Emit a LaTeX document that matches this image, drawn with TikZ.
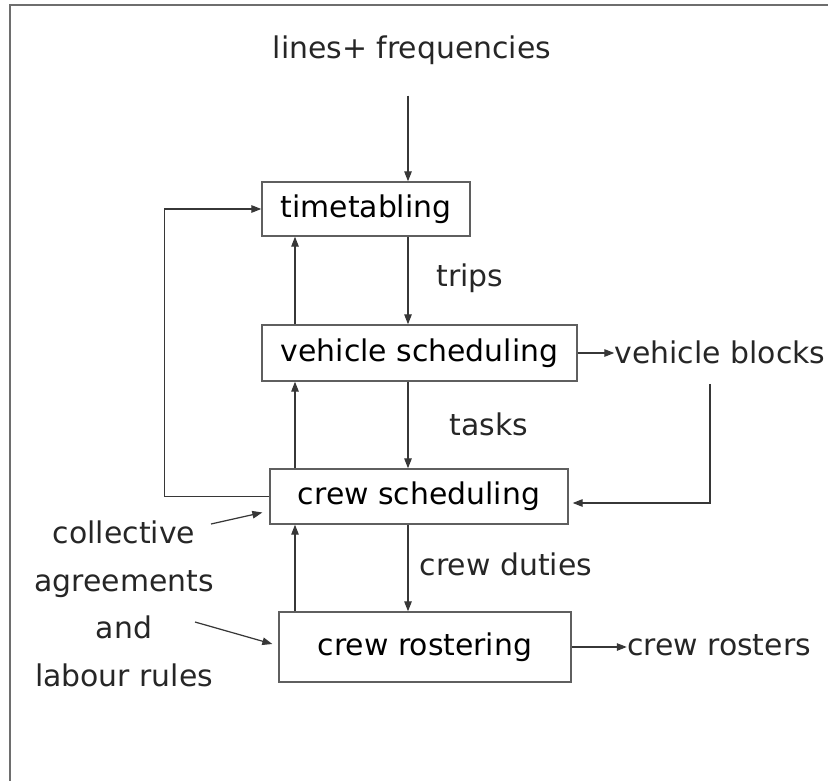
\documentclass[tikz,border=0pt]{standalone}
\usepackage{fontspec}
\setmainfont{DejaVu Sans}
\usepackage{tikz}
\usetikzlibrary{arrows.meta,positioning,calc}
\usepackage{xcolor}
\definecolor{linec}{RGB}{55,55,55}
\definecolor{boxc}{RGB}{95,95,95}
\definecolor{framec}{RGB}{110,110,110}
\tikzset{
  stage/.style = {draw=boxc, line width=0.8pt, inner sep=0pt,
                  font=\fontsize{17}{20}\selectfont},
  lbl/.style   = {anchor=base, inner sep=0pt, text=black!85,
                  font=\fontsize{17}{20}\selectfont},
  flow/.style  = {-{Triangle[length=2mm,width=1.5mm]}, linec, line width=0.7pt},
  framel/.style= {framec, line width=1pt},
}

\begin{document}
\begin{tikzpicture}[x=0.02cm, y=-0.02cm]
\useasboundingbox (0,0) rectangle (828,781);

% ---- frame ----
\draw[framel] (828,5) -- (10,5) -- (10,781);

% ---- planning stages ----
\node[stage, minimum width=4.16cm, minimum height=1.08cm] (time) at (366,209) {timetabling};
\node[stage, minimum width=6.30cm, minimum height=1.12cm] (veh)  at (419.5,353) {vehicle scheduling};
\node[stage, minimum width=5.96cm, minimum height=1.10cm] (crew) at (419,496.5) {crew scheduling};
\node[stage, minimum width=5.84cm, minimum height=1.40cm] (rost) at (425,647) {crew rostering};

% ---- inputs / outputs ----
\node[lbl] (lines)   at (412,58)  {lines+ frequencies};
\node[lbl] (trips)   at (470,286) {trips};
\node[lbl] (tasks)   at (489,435) {tasks};
\node[lbl] (duties)  at (506,575) {crew duties};
\node[lbl] (vblocks) at (720,363) {vehicle blocks};
\node[lbl] (rosters) at (719,655) {crew rosters};
\node[lbl, anchor=north, align=center, font=\fontsize{17}{27.3}\selectfont]
      (rules) at (124,520) {collective\\agreements\\and\\labour rules};

% ---- arrow columns ----
\coordinate (upx) at (295,0);
\coordinate (dnx) at (408,0);
\coordinate (vbturn) at (710,503);
\coordinate (ca1) at (211,524);
\coordinate (ca2) at (195,622);

% downward flow
\draw[flow, shorten <=0.62cm] (lines.south -| dnx) -- (time.north -| dnx);
\draw[flow] (time.south -| dnx) -- (veh.north -| dnx);
\draw[flow] (veh.south -| dnx) -- (crew.north -| dnx);
\draw[flow] (crew.south -| dnx) -- (rost.north -| dnx);

% feedback upward
\draw[flow] (veh.north -| upx) -- (time.south -| upx);
\draw[flow] (crew.north -| upx) -- (veh.south -| upx);
\draw[flow] (rost.north -| upx) -- (crew.south -| upx);
\draw[flow] (crew.west) -- ++(-105,0) |- (time.west);

% outputs
\draw[flow] (veh.east) -- (veh.east -| vblocks.west);
\draw[flow] (rost.east) -- (rost.east -| rosters.west);
\draw[flow, shorten <=0.4cm] (vblocks.south -| vbturn) -- (vbturn) -- ($(crew.east |- vbturn)+(4,0)$);

% rules into crew stages
\draw[flow] (ca1) -- ($(crew.west)+(-7,16)$);
\draw[flow] (ca2) -- ($(rost.west)+(-6,-3)$);

\end{tikzpicture}
\end{document}
